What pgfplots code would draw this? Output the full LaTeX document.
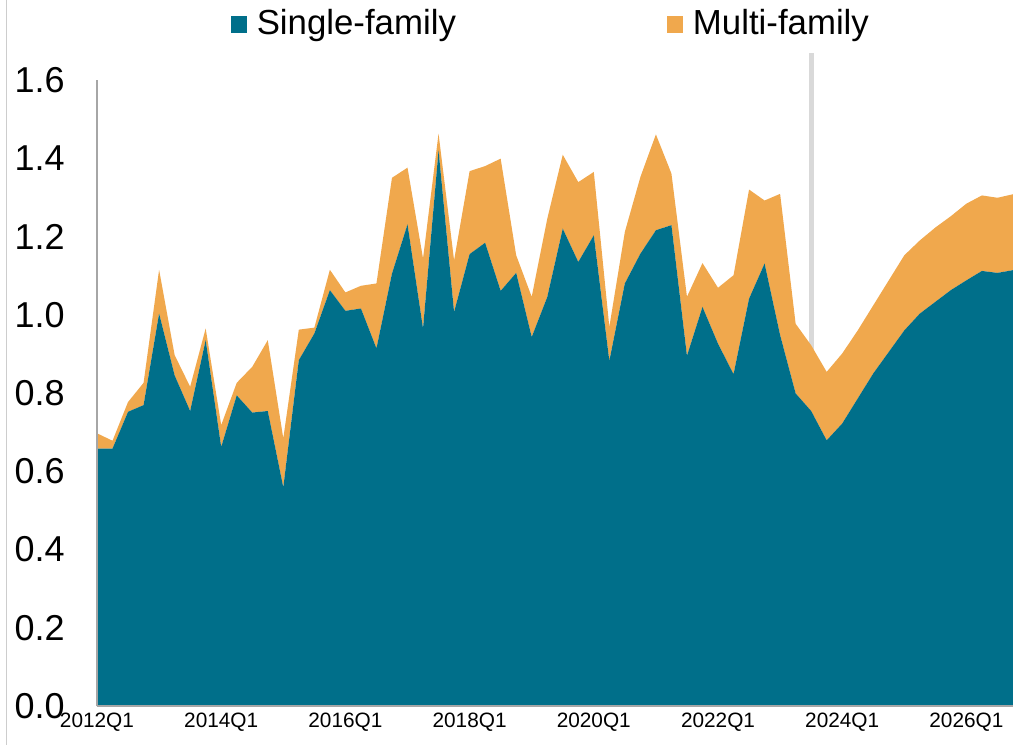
\documentclass[border=0pt]{standalone}
\usepackage{pgfplots}
\usepackage{pgfplotstable}
\pgfplotsset{compat=1.18}
\usepackage{fontspec}
\setmainfont{Liberation Sans}
\definecolor{teal1}{RGB}{0,111,138}
\definecolor{orng}{RGB}{240,168,77}
\definecolor{axgray}{RGB}{166,166,166}
\definecolor{vline}{RGB}{217,217,217}
\definecolor{edge}{RGB}{205,205,205}

\pgfplotstableread{
i s m
0 0.658 0.039
1 0.658 0.020
2 0.752 0.025
3 0.769 0.057
4 1.003 0.112
5 0.845 0.052
6 0.754 0.062
7 0.935 0.030
8 0.662 0.056
9 0.794 0.032
10 0.750 0.117
11 0.754 0.181
12 0.559 0.125
13 0.884 0.078
14 0.952 0.015
15 1.063 0.052
16 1.010 0.047
17 1.016 0.058
18 0.914 0.166
19 1.105 0.245
20 1.231 0.145
21 0.965 0.179
22 1.420 0.043
23 1.007 0.132
24 1.155 0.212
25 1.184 0.196
26 1.061 0.338
27 1.107 0.045
28 0.943 0.103
29 1.045 0.200
30 1.220 0.189
31 1.135 0.204
32 1.203 0.162
33 0.882 0.087
34 1.080 0.132
35 1.156 0.196
36 1.216 0.245
37 1.229 0.132
38 0.895 0.151
39 1.020 0.112
40 0.926 0.143
41 0.848 0.253
42 1.041 0.279
43 1.131 0.161
44 0.948 0.361
45 0.799 0.178
46 0.754 0.168
47 0.679 0.175
48 0.722 0.179
49 0.786 0.174
50 0.850 0.174
51 0.905 0.183
52 0.960 0.192
53 1.003 0.187
54 1.033 0.190
55 1.063 0.189
56 1.088 0.196
57 1.112 0.193
58 1.107 0.192
59 1.114 0.194
}\data

\begin{document}
\begin{tikzpicture}
\begin{axis}[name=ax, at={(0,0)}, anchor=south west,
  scale only axis, width=458pt, height=313pt,
  xmin=0, xmax=59, ymin=0, ymax=1.6, enlargelimits=false,
  stack plots=y,
  axis x line*=bottom, axis y line*=left,
  axis line style={axgray, line width=0.75pt, -},
  major tick length=0pt,
  xtick={0,8,16,24,32,40,48,56},
  xticklabels={2012Q1,2014Q1,2016Q1,2018Q1,2020Q1,2022Q1,2024Q1,2026Q1},
  ytick={0,0.2,0.4,0.6,0.8,1.0,1.2,1.4,1.6},
  yticklabels={0.0,0.2,0.4,0.6,0.8,1.0,1.2,1.4,1.6},
  x tick label style={font=\fontsize{10.4}{12}\selectfont, inner sep=0pt, anchor=north, yshift=-3.5pt},
  y tick label style={font=\fontsize{18}{21}\selectfont, inner sep=0pt, anchor=east, xshift=-16pt},
  axis on top, clip=false,
  legend columns=2,
  legend style={draw=none, fill=none, at={(0.496,1.09)}, anchor=center,
    font=\fontsize{17.4}{20}\selectfont, inner sep=0pt,
    /tikz/every even column/.append style={column sep=104pt},
    nodes={inner xsep=1.5pt}},
  legend image code/.code={\fill[#1] (0pt,-4.5pt) rectangle (8pt,3.8pt); \path (9.5pt,0pt);},
]
\addplot[fill=teal1, draw=none] table[x=i,y=s]{\data} \closedcycle;
\addplot[fill=orng, draw=none] table[x=i,y=m]{\data} \closedcycle;
\legend{\hspace{2pt}Single-family, \hspace{2pt}Multi-family}
\draw[vline, line width=2.6pt] (axis cs:46,0) -- (axis cs:46,1.668);
\end{axis}
\draw[edge, line width=0.5pt] ([shift={(-45pt,-19.5pt)}]ax.south west) -- ([shift={(-45pt,353pt)}]ax.south west);
\pgfresetboundingbox
\path[use as bounding box] ([shift={(-48.5pt,-19.5pt)}]ax.south west) rectangle ([shift={(458pt,353pt)}]ax.south west);
\end{tikzpicture}
\end{document}
